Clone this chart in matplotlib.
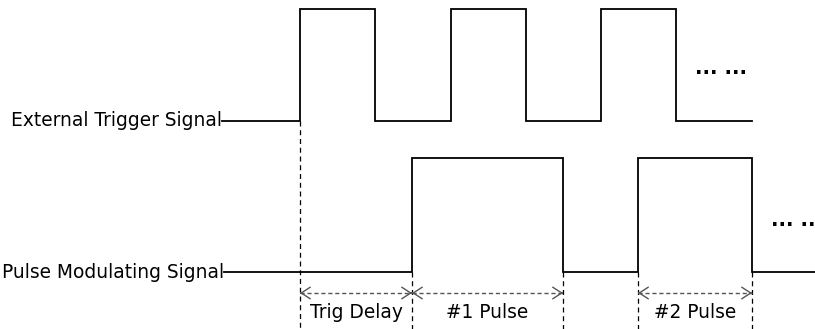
import numpy as np
import matplotlib.pyplot as plt

# signal edges, horizontal units are image pixels (time axis)
trig_span = (222, 752)
trig_edges = [300, 375, 451, 526, 601, 676]
trig_levels = (121, 9)          # low, high

pulse_span = (224, 815)
pulse_edges = [412, 563, 638, 752]
pulse_levels = (272, 158)

# labelled intervals below the pulse signal
spans = [("Trig Delay", 300, 412), ("#1 Pulse", 412, 563), ("#2 Pulse", 638, 752)]
marker_x = [300, 412, 563, 638, 752]
arrow_y = 293
label_y = 313

FONT = 13.4


def square_wave(span, edges, levels):
    xs = [span[0]] + list(np.repeat(edges, 2)) + [span[1]]
    state = 0
    ys = [levels[state]]
    for _ in edges:
        ys.append(levels[state])
        state = 1 - state
        ys.append(levels[state])
    ys.append(levels[state])
    return xs, ys


fig = plt.figure(figsize=(8.15, 3.29), dpi=100)
ax = fig.add_axes([0, 0, 1, 1])
ax.set_xlim(0, 815)
ax.set_ylim(329, 0)
ax.axis("off")

for span, edges, levels in [(trig_span, trig_edges, trig_levels),
                            (pulse_span, pulse_edges, pulse_levels)]:
    xs, ys = square_wave(span, edges, levels)
    ax.plot(xs, ys, color="black", lw=1.3, solid_joinstyle="miter")

# dashed guide lines
ax.plot([marker_x[0]] * 2, [trig_levels[0], 329], color="black", lw=0.9, ls=(0, (4, 3)))
for x in marker_x[1:]:
    ax.plot([x, x], [pulse_levels[0], 329], color="black", lw=0.9, ls=(0, (4, 3)))

head = dict(arrowstyle="->,head_length=0.65,head_width=0.42", color="#555555",
            lw=1.0, shrinkA=0, shrinkB=0)
for name, x0, x1 in spans:
    ax.plot([x0, x1], [arrow_y, arrow_y], color="#555555", lw=1.0, ls=(0, (3, 2)))
    ax.annotate("", xy=(x0, arrow_y), xytext=(x0 + 1, arrow_y), arrowprops=head)
    ax.annotate("", xy=(x1, arrow_y), xytext=(x1 - 1, arrow_y), arrowprops=head)
    ax.text((x0 + x1) / 2, label_y, name, ha="center", va="center",
            fontsize=FONT, family="DejaVu Sans")

ax.text(trig_span[0], trig_levels[0], "External Trigger Signal", ha="right",
        va="center", fontsize=FONT, family="DejaVu Sans")
ax.text(pulse_span[0], pulse_levels[0], "Pulse Modulating Signal", ha="right",
        va="center", fontsize=FONT, family="DejaVu Sans")

ax.text(721, 74, "... ...", ha="center", va="baseline", fontsize=14.5, fontweight="bold")
ax.text(771, 226, "... ...", ha="left", va="baseline", fontsize=14.5, fontweight="bold")

fig.savefig("out.png", dpi=100)
